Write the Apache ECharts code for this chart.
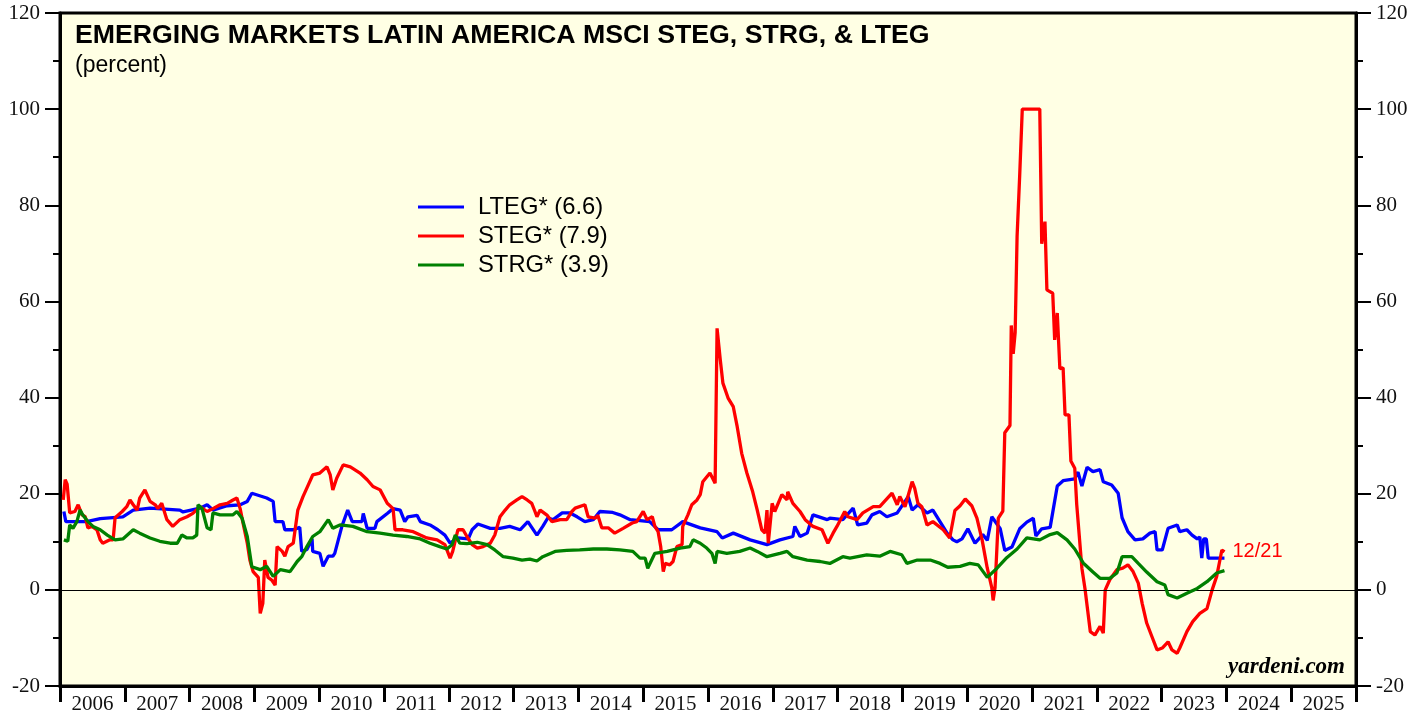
<!DOCTYPE html>
<html>
<head>
<meta charset="utf-8">
<script src="https://cdn.jsdelivr.net/npm/echarts@6/dist/echarts.min.js"></script>
<style>
  html, body { margin: 0; padding: 0; background: #fff; }
  #main { width: 1426px; height: 717px; }
</style>
</head>
<body>
<div id="main"></div>
<script>
// year labels on the bottom axis
var years = ['2006', '2007', '2008', '2009', '2010', '2011', '2012', '2013', '2014', '2015',
    '2016', '2017', '2018', '2019', '2020', '2021', '2022', '2023', '2024', '2025'];

// [decimal year, percent]
var lteg = [
    [2006.06, 16.3], [2006.09, 14.2], [2006.41, 14.2], [2006.62, 14.8], [2006.97, 15.2], [2007.13, 16.6],
    [2007.39, 17.0], [2007.85, 16.6], [2007.90, 16.2], [2008.16, 17.0], [2008.27, 17.7], [2008.36, 16.6],
    [2008.58, 17.5], [2008.78, 17.7], [2008.89, 18.4], [2008.96, 20.1], [2009.19, 19.1], [2009.29, 18.4],
    [2009.32, 14.2], [2009.44, 14.2], [2009.47, 12.5], [2009.60, 12.5], [2009.70, 13.0], [2009.73, 8.0],
    [2009.81, 8.4], [2009.89, 10.6], [2009.90, 8.0], [2010.01, 7.6], [2010.06, 4.9], [2010.14, 7.0],
    [2010.21, 7.0], [2010.24, 7.6], [2010.35, 13.2], [2010.44, 16.6], [2010.51, 14.2], [2010.66, 14.2],
    [2010.68, 15.9], [2010.74, 12.8], [2010.86, 12.8], [2010.89, 14.2], [2011.05, 15.9], [2011.14, 16.9],
    [2011.25, 16.6], [2011.32, 14.2], [2011.37, 15.2], [2011.51, 15.5], [2011.56, 14.2], [2011.71, 13.5],
    [2011.83, 12.5], [2011.94, 11.4], [2012.02, 9.7], [2012.14, 10.8], [2012.30, 10.6], [2012.36, 12.5],
    [2012.45, 13.7], [2012.64, 12.8], [2012.79, 12.8], [2012.94, 13.2], [2013.10, 12.5], [2013.22, 14.2],
    [2013.36, 11.4], [2013.45, 13.2], [2013.53, 15.0], [2013.61, 14.6], [2013.75, 16.0], [2013.87, 16.0],
    [2013.98, 15.2], [2014.10, 14.2], [2014.23, 14.6], [2014.33, 16.3], [2014.53, 16.1], [2014.64, 15.6],
    [2014.80, 14.6], [2015.10, 14.2], [2015.23, 12.5], [2015.44, 12.5], [2015.61, 14.2], [2015.88, 12.9],
    [2016.14, 12.1], [2016.22, 10.8], [2016.39, 11.8], [2016.65, 10.4], [2016.91, 9.4], [2017.11, 10.4],
    [2017.31, 11.1], [2017.34, 13.2], [2017.42, 11.1], [2017.53, 11.8], [2017.62, 15.6], [2017.84, 14.6],
    [2017.88, 14.9], [2018.08, 14.6], [2018.24, 17.0], [2018.31, 13.5], [2018.45, 13.9], [2018.53, 15.6],
    [2018.65, 16.3], [2018.76, 15.2], [2018.92, 16.0], [2019.09, 19.4], [2019.15, 16.6], [2019.24, 17.7],
    [2019.38, 16.0], [2019.47, 16.6], [2019.58, 14.2], [2019.69, 11.8], [2019.78, 10.4], [2019.84, 10.0],
    [2019.92, 10.6], [2020.01, 12.7], [2020.12, 9.7], [2020.24, 11.5], [2020.31, 10.3], [2020.38, 15.2],
    [2020.51, 12.7], [2020.58, 8.2], [2020.69, 8.9], [2020.81, 12.7], [2020.92, 14.1], [2021.02, 14.9],
    [2021.06, 11.2], [2021.15, 12.7], [2021.28, 13.0], [2021.39, 21.6], [2021.48, 22.7], [2021.66, 23.1],
    [2021.71, 24.5], [2021.77, 21.6], [2021.85, 25.5], [2021.94, 24.6], [2022.05, 25.0], [2022.10, 22.5],
    [2022.23, 21.8], [2022.33, 20.1], [2022.39, 15.0], [2022.48, 12.1], [2022.59, 10.4], [2022.71, 10.6],
    [2022.82, 11.8], [2022.90, 12.1], [2022.93, 8.3], [2023.01, 8.3], [2023.10, 12.8], [2023.24, 13.5],
    [2023.28, 12.1], [2023.39, 12.5], [2023.47, 11.4], [2023.55, 10.6], [2023.59, 11.0], [2023.62, 6.6],
    [2023.65, 10.6], [2023.69, 10.6], [2023.72, 6.6], [2023.97, 6.6]
];

var steg = [
    [2006.05, 18.7], [2006.08, 22.9], [2006.11, 22.0], [2006.15, 16.0], [2006.23, 16.3], [2006.28, 17.7],
    [2006.34, 15.6], [2006.39, 15.2], [2006.43, 12.9], [2006.49, 13.2], [2006.57, 12.5], [2006.62, 10.4],
    [2006.66, 9.7], [2006.77, 10.4], [2006.82, 10.4], [2006.85, 15.0], [2006.96, 16.3], [2007.03, 17.3],
    [2007.08, 18.7], [2007.13, 17.7], [2007.19, 16.6], [2007.23, 19.1], [2007.31, 20.8], [2007.39, 18.4],
    [2007.47, 17.7], [2007.51, 16.9], [2007.57, 18.0], [2007.65, 14.6], [2007.74, 13.2], [2007.85, 14.6],
    [2007.96, 15.2], [2008.05, 15.9], [2008.16, 17.3], [2008.27, 16.3], [2008.36, 16.9], [2008.47, 17.7],
    [2008.58, 18.0], [2008.67, 18.7], [2008.73, 19.1], [2008.75, 19.4], [2008.78, 16.9], [2008.82, 14.2],
    [2008.89, 9.7], [2008.93, 6.2], [2008.98, 3.8], [2009.06, 2.6], [2009.09, -4.9], [2009.13, -2.8],
    [2009.16, 6.2], [2009.21, 2.6], [2009.27, 2.0], [2009.32, 1.0], [2009.35, 9.0], [2009.43, 8.0],
    [2009.47, 7.0], [2009.52, 9.0], [2009.60, 9.7], [2009.67, 16.6], [2009.75, 19.4], [2009.83, 21.8],
    [2009.90, 23.9], [2010.01, 24.3], [2010.12, 25.6], [2010.17, 23.9], [2010.21, 20.8], [2010.27, 23.2],
    [2010.37, 26.0], [2010.48, 25.6], [2010.63, 24.3], [2010.74, 22.9], [2010.83, 21.5], [2010.94, 20.8],
    [2011.05, 18.0], [2011.14, 16.9], [2011.17, 12.5], [2011.29, 12.5], [2011.45, 12.1], [2011.56, 11.4],
    [2011.66, 10.8], [2011.82, 10.4], [2011.94, 9.4], [2012.02, 6.6], [2012.06, 8.0], [2012.14, 12.5],
    [2012.22, 12.5], [2012.28, 11.1], [2012.36, 9.4], [2012.44, 8.7], [2012.53, 9.0], [2012.64, 9.7],
    [2012.71, 11.4], [2012.79, 15.2], [2012.87, 16.6], [2012.94, 17.7], [2013.05, 18.7], [2013.13, 19.4],
    [2013.21, 18.7], [2013.28, 18.0], [2013.33, 16.3], [2013.36, 15.2], [2013.41, 16.6], [2013.52, 15.5],
    [2013.59, 14.2], [2013.72, 14.6], [2013.82, 14.6], [2013.90, 16.3], [2013.95, 17.0], [2014.10, 17.7],
    [2014.15, 15.2], [2014.26, 14.9], [2014.30, 15.5], [2014.36, 12.9], [2014.46, 12.9], [2014.56, 11.8],
    [2014.69, 12.8], [2014.83, 13.9], [2014.90, 14.2], [2015.00, 16.3], [2015.06, 14.6], [2015.14, 15.2],
    [2015.18, 13.2], [2015.23, 12.1], [2015.27, 9.0], [2015.31, 3.8], [2015.34, 5.5], [2015.41, 5.2],
    [2015.46, 5.9], [2015.52, 9.0], [2015.60, 9.4], [2015.61, 13.2], [2015.69, 15.6], [2015.75, 17.7],
    [2015.83, 18.7], [2015.88, 19.8], [2015.92, 22.5], [2016.03, 24.3], [2016.11, 22.2], [2016.14, 54.4],
    [2016.19, 47.8], [2016.23, 43.0], [2016.31, 39.9], [2016.39, 38.1], [2016.45, 34.0], [2016.52, 28.4],
    [2016.60, 24.3], [2016.69, 20.4], [2016.76, 16.6], [2016.83, 12.5], [2016.88, 11.8], [2016.91, 16.6],
    [2016.93, 9.7], [2016.99, 18.0], [2017.03, 16.3], [2017.14, 19.8], [2017.22, 18.7], [2017.23, 20.4],
    [2017.31, 18.0], [2017.42, 16.3], [2017.50, 14.6], [2017.62, 13.2], [2017.76, 12.5], [2017.85, 9.7],
    [2017.93, 11.8], [2017.99, 13.2], [2018.11, 16.3], [2018.16, 15.2], [2018.30, 14.6], [2018.39, 16.0],
    [2018.55, 17.3], [2018.65, 17.3], [2018.84, 20.1], [2018.92, 17.7], [2018.96, 19.4], [2019.04, 17.3],
    [2019.15, 22.5], [2019.19, 21.1], [2019.24, 18.0], [2019.30, 17.3], [2019.38, 13.5], [2019.47, 14.2],
    [2019.63, 12.5], [2019.73, 10.8], [2019.81, 16.5], [2019.89, 17.5], [2019.97, 18.9], [2020.07, 17.5],
    [2020.15, 14.9], [2020.23, 10.4], [2020.31, 4.5], [2020.38, 0.4], [2020.40, -2.2], [2020.43, 0.5],
    [2020.48, 14.9], [2020.55, 16.4], [2020.58, 32.7], [2020.66, 34.2], [2020.68, 55.0], [2020.71, 49.1],
    [2020.74, 53.5], [2020.77, 73.6], [2020.81, 86.2], [2020.85, 100], [2021.12, 100], [2021.15, 72.0],
    [2021.20, 76.6], [2021.23, 62.4], [2021.32, 61.7], [2021.35, 52.0], [2021.39, 57.6], [2021.43, 46.0],
    [2021.48, 46.2], [2021.51, 36.4], [2021.57, 36.4], [2021.60, 26.8], [2021.66, 25.3], [2021.69, 17.8],
    [2021.77, 4.5], [2021.82, 0], [2021.90, -8.7], [2021.97, -9.4], [2022.05, -7.6], [2022.10, -9.0],
    [2022.13, 0], [2022.20, 2.1], [2022.31, 4.2], [2022.40, 4.5], [2022.48, 5.2], [2022.56, 3.8],
    [2022.64, 1.4], [2022.70, -2.8], [2022.77, -6.9], [2022.85, -9.7], [2022.93, -12.5], [2023.01, -12.1],
    [2023.10, -10.8], [2023.16, -12.5], [2023.24, -13.2], [2023.28, -12.1], [2023.39, -8.7], [2023.48, -6.6],
    [2023.59, -4.9], [2023.70, -3.9], [2023.78, 0], [2023.85, 2.8], [2023.90, 6.2], [2023.93, 8.3],
    [2023.97, 7.9]
];

var strg = [
    [2006.06, 10.4], [2006.12, 10.1], [2006.15, 13.5], [2006.20, 12.8], [2006.26, 14.2], [2006.31, 16.6],
    [2006.35, 15.6], [2006.43, 14.2], [2006.51, 13.2], [2006.62, 12.5], [2006.73, 11.4], [2006.85, 10.4],
    [2006.97, 10.6], [2007.13, 12.5], [2007.23, 11.8], [2007.39, 10.8], [2007.54, 10.1], [2007.70, 9.7],
    [2007.81, 9.7], [2007.88, 11.4], [2007.96, 10.8], [2008.05, 10.8], [2008.11, 11.4], [2008.13, 17.7],
    [2008.19, 17.0], [2008.27, 12.9], [2008.33, 12.5], [2008.36, 16.0], [2008.47, 15.6], [2008.67, 15.6],
    [2008.73, 16.3], [2008.81, 14.9], [2008.89, 11.1], [2008.96, 4.8], [2009.09, 4.2], [2009.19, 4.9],
    [2009.29, 2.8], [2009.40, 4.2], [2009.55, 3.8], [2009.66, 5.9], [2009.73, 6.9], [2009.81, 9.0],
    [2009.90, 11.1], [2010.01, 12.1], [2010.14, 14.6], [2010.21, 12.8], [2010.32, 13.5], [2010.52, 13.2],
    [2010.74, 12.1], [2010.94, 11.8], [2011.14, 11.4], [2011.35, 11.1], [2011.56, 10.6], [2011.71, 9.7],
    [2011.86, 9.0], [2011.97, 8.5], [2012.05, 9.4], [2012.10, 11.4], [2012.17, 9.7], [2012.28, 9.6],
    [2012.44, 9.9], [2012.59, 9.4], [2012.71, 8.3], [2012.84, 6.9], [2012.99, 6.6], [2013.13, 6.2],
    [2013.25, 6.4], [2013.36, 6.0], [2013.45, 6.9], [2013.64, 8.0], [2013.82, 8.2], [2014.02, 8.3],
    [2014.23, 8.5], [2014.44, 8.5], [2014.64, 8.3], [2014.84, 8.0], [2014.95, 6.6], [2015.03, 6.6],
    [2015.07, 4.5], [2015.18, 7.6], [2015.37, 8.0], [2015.57, 8.7], [2015.72, 9.0], [2015.77, 10.4],
    [2015.88, 9.7], [2015.98, 8.7], [2016.06, 7.6], [2016.11, 5.5], [2016.14, 8.0], [2016.29, 7.6],
    [2016.49, 8.0], [2016.65, 8.7], [2016.76, 8.0], [2016.91, 6.9], [2017.11, 7.6], [2017.22, 8.0],
    [2017.31, 6.9], [2017.53, 6.2], [2017.73, 5.9], [2017.88, 5.5], [2018.08, 6.9], [2018.19, 6.6],
    [2018.45, 7.3], [2018.65, 7.0], [2018.81, 8.0], [2018.99, 7.3], [2019.07, 5.5], [2019.23, 6.2],
    [2019.43, 6.2], [2019.58, 5.5], [2019.70, 4.7], [2019.89, 4.9], [2020.04, 5.5], [2020.17, 5.2],
    [2020.31, 2.6], [2020.46, 4.5], [2020.61, 6.7], [2020.77, 8.5], [2020.92, 10.8], [2021.12, 10.4],
    [2021.28, 11.5], [2021.39, 11.9], [2021.54, 10.4], [2021.66, 8.5], [2021.79, 5.6], [2021.94, 3.7],
    [2022.05, 2.4], [2022.20, 2.4], [2022.31, 3.5], [2022.39, 6.9], [2022.54, 6.9], [2022.64, 5.5],
    [2022.77, 3.7], [2022.93, 1.7], [2023.05, 1.0], [2023.10, -1.0], [2023.24, -1.7], [2023.39, -0.7],
    [2023.55, 0.3], [2023.70, 1.7], [2023.85, 3.5], [2023.97, 4.0]
];

var chart = echarts.init(document.getElementById('main'));

var serif = '"Liberation Serif", "Times New Roman", serif';
var sans = '"Liberation Sans", Arial, sans-serif';

var yAxisBase = {
    type: 'value',
    min: -20,
    max: 120,
    interval: 20,
    splitLine: { show: false },
    axisLine: { show: true, onZero: false, lineStyle: { color: '#000', width: 3 } },
    axisTick: { show: true, inside: false, length: 15, lineStyle: { color: '#000', width: 2 } },
    minorTick: { show: true, splitNumber: 2, length: 7, lineStyle: { color: '#000', width: 2 } },
    axisLabel: { fontFamily: serif, fontSize: 21, color: '#111', margin: 20 }
};

var option = {
    animation: false,
    backgroundColor: '#fff',
    grid: {
        left: 60, right: 70, top: 13, bottom: 31,
        show: true,
        backgroundColor: '#FFFFE4',
        borderColor: '#000',
        borderWidth: 3
    },
    title: {
        text: 'EMERGING MARKETS LATIN AMERICA MSCI STEG, STRG, & LTEG',
        subtext: '(percent)',
        left: 70, top: 17,
        itemGap: 5,
        textStyle: { fontFamily: sans, fontWeight: 'bold', fontSize: 26.7, color: '#000' },
        subtextStyle: { fontFamily: sans, fontSize: 23, color: '#000' }
    },
    legend: {
        orient: 'vertical',
        left: 418, top: 195,
        padding: 0,
        itemWidth: 46, itemHeight: 3,
        itemGap: 5,
        icon: 'rect',
        textStyle: { fontFamily: sans, fontSize: 23.8, color: '#000', padding: [0, 0, 0, 9] },
        data: ['LTEG* (6.6)', 'STEG* (7.9)', 'STRG* (3.9)']
    },
    xAxis: [
        { type: 'value', min: 2006, max: 2026, show: false },
        {
            type: 'category', position: 'bottom', data: years, boundaryGap: true,
            axisLine: { show: true, onZero: false, lineStyle: { color: '#000', width: 3 } },
            axisTick: { show: true, inside: false, length: 16, lineStyle: { color: '#000', width: 3 } },
            axisLabel: { fontFamily: serif, fontSize: 21, color: '#111', margin: 8, interval: 0 }
        }
    ],
    yAxis: [
        Object.assign({}, yAxisBase, { position: 'left' }),
        Object.assign({}, yAxisBase, { position: 'right' })
    ],
    graphic: [{
        type: 'text', right: 81, top: 656,
        style: { text: 'yardeni.com', font: 'italic bold 23px ' + serif, fill: '#000' }
    }],
    series: [
        {
            name: 'LTEG* (6.6)', type: 'line', data: lteg, showSymbol: false,
            lineStyle: { color: '#0000FF', width: 3.3 }, itemStyle: { color: '#0000FF' },
            z: 3
        },
        {
            name: 'STEG* (7.9)', type: 'line', data: steg, showSymbol: false,
            lineStyle: { color: '#FF0000', width: 3.3 }, itemStyle: { color: '#FF0000' },
            z: 4,
            endLabel: { show: true, formatter: '12/21', color: '#FF0000', fontFamily: sans, fontSize: 20, distance: 8 },
            markLine: {
                silent: true, symbol: 'none', label: { show: false },
                lineStyle: { color: '#000', width: 1, type: 'solid' },
                data: [{ yAxis: 0 }]
            }
        },
        {
            name: 'STRG* (3.9)', type: 'line', data: strg, showSymbol: false,
            lineStyle: { color: '#008000', width: 3.3 }, itemStyle: { color: '#008000' },
            z: 5
        }
    ]
};

chart.setOption(option);
</script>
</body>
</html>
